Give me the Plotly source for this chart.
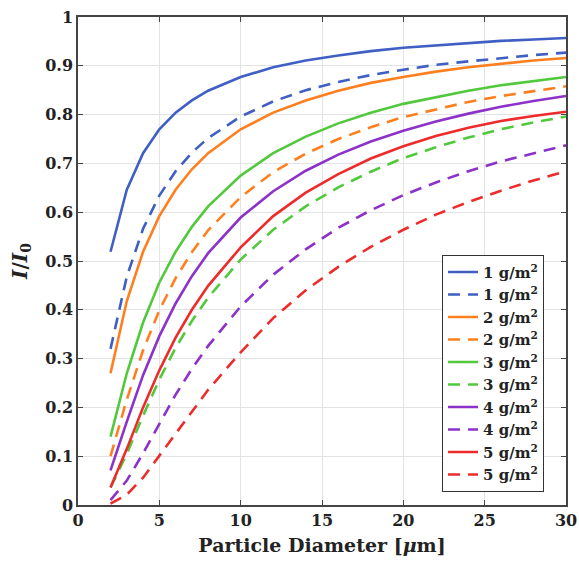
import plotly.graph_objects as go

diameter = [2, 3, 4, 5, 6, 7, 8, 10, 12, 14, 16, 18, 20, 22, 24, 26, 28, 30]

blue_solid = [0.519, 0.646, 0.721, 0.770, 0.804, 0.829, 0.849, 0.877, 0.897, 0.911, 0.921, 0.930, 0.937, 0.942, 0.947, 0.951, 0.954, 0.957]
blue_dash = [0.320, 0.468, 0.566, 0.634, 0.684, 0.722, 0.752, 0.796, 0.827, 0.850, 0.867, 0.881, 0.892, 0.902, 0.909, 0.916, 0.922, 0.927]
orange_solid = [0.270, 0.418, 0.519, 0.592, 0.646, 0.688, 0.721, 0.770, 0.804, 0.829, 0.849, 0.865, 0.877, 0.888, 0.897, 0.904, 0.911, 0.916]
orange_dash = [0.100, 0.216, 0.317, 0.399, 0.465, 0.518, 0.563, 0.631, 0.682, 0.720, 0.750, 0.774, 0.795, 0.811, 0.826, 0.838, 0.848, 0.858]
green_solid = [0.140, 0.270, 0.374, 0.456, 0.519, 0.570, 0.612, 0.675, 0.721, 0.755, 0.782, 0.804, 0.822, 0.836, 0.849, 0.860, 0.869, 0.877]
green_dash = [0.036, 0.105, 0.183, 0.257, 0.322, 0.377, 0.425, 0.503, 0.564, 0.612, 0.651, 0.683, 0.711, 0.733, 0.753, 0.770, 0.784, 0.796]
purple_solid = [0.071, 0.171, 0.266, 0.346, 0.413, 0.469, 0.516, 0.589, 0.643, 0.685, 0.718, 0.745, 0.767, 0.786, 0.802, 0.816, 0.828, 0.838]
purple_dash = [0.010, 0.050, 0.106, 0.167, 0.226, 0.279, 0.326, 0.407, 0.472, 0.524, 0.568, 0.604, 0.635, 0.661, 0.684, 0.704, 0.721, 0.737]
red_solid = [0.036, 0.115, 0.200, 0.276, 0.343, 0.400, 0.449, 0.528, 0.592, 0.640, 0.678, 0.710, 0.735, 0.756, 0.773, 0.787, 0.797, 0.806]
red_dash = [0.003, 0.021, 0.056, 0.101, 0.147, 0.192, 0.236, 0.313, 0.383, 0.440, 0.488, 0.529, 0.564, 0.595, 0.621, 0.644, 0.665, 0.684]

series = [
    ("1 g/m<sup>2</sup>", blue_solid, "#3F5FC4", "solid"),
    ("1 g/m<sup>2</sup>", blue_dash, "#3F5FC4", "dash"),
    ("2 g/m<sup>2</sup>", orange_solid, "#FF7F1E", "solid"),
    ("2 g/m<sup>2</sup>", orange_dash, "#FF7F1E", "dash"),
    ("3 g/m<sup>2</sup>", green_solid, "#52C83C", "solid"),
    ("3 g/m<sup>2</sup>", green_dash, "#52C83C", "dash"),
    ("4 g/m<sup>2</sup>", purple_solid, "#8C32C8", "solid"),
    ("4 g/m<sup>2</sup>", purple_dash, "#8C32C8", "dash"),
    ("5 g/m<sup>2</sup>", red_solid, "#EE2B2B", "solid"),
    ("5 g/m<sup>2</sup>", red_dash, "#EE2B2B", "dash"),
]

fig = go.Figure()
for name, vals, color, style in series:
    fig.add_trace(go.Scatter(
        x=diameter, y=vals, mode="lines", name=name,
        line=dict(color=color, width=2.6, dash="12px,8px" if style == "dash" else "solid"),
    ))

font_family = "DejaVu Serif"
axis_common = dict(
    showline=True, linecolor="#444444", linewidth=1.5, mirror="ticks",
    ticks="inside", ticklen=5, tickcolor="#444444", automargin=False,
    showgrid=True, gridcolor="#E3E3E3", gridwidth=1, zeroline=False,
    tickfont=dict(family=font_family, size=16, color="#222222", weight="bold"),
)

fig.update_layout(
    width=579, height=567,
    margin=dict(l=78, r=13, t=17, b=62),
    paper_bgcolor="white", plot_bgcolor="white",
    font=dict(family=font_family, color="#222222"),
    xaxis=dict(range=[0, 30], tickvals=[0, 5, 10, 15, 20, 25, 30],
               title=dict(text="<b>Particle Diameter [<i>μ</i>m]</b>",
                          font=dict(family=font_family, size=19), standoff=10),
               **axis_common),
    yaxis=dict(range=[0, 1], tickvals=[0, 0.1, 0.2, 0.3, 0.4, 0.5, 0.6, 0.7, 0.8, 0.9, 1],
               title=dict(text="<b><i>I</i>/<i>I</i><sub>0</sub></b>",
                          font=dict(family=font_family, size=20), standoff=12),
               **axis_common),
    legend=dict(x=0.955, y=0.027, xanchor="right", yanchor="bottom",
                bgcolor="white", bordercolor="#333333", borderwidth=1,
                font=dict(family=font_family, size=15, color="#222222", weight="bold"),
                tracegroupgap=0, itemwidth=30),
)

fig.write_html("out.html")
